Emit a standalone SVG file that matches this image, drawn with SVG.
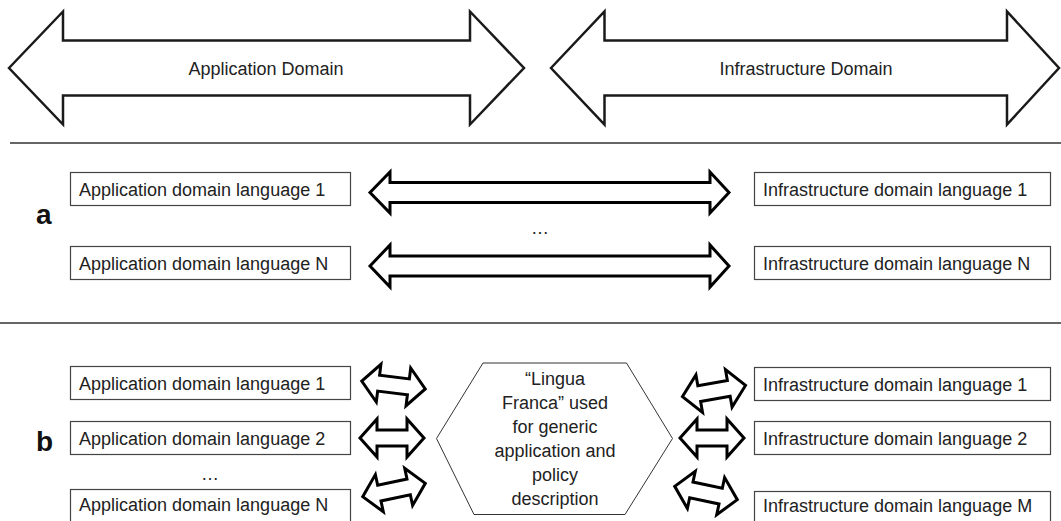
<svg xmlns="http://www.w3.org/2000/svg" width="1061" height="521" viewBox="0 0 1061 521">
<defs>
<style>
.big{fill:#fff;stroke:#1a1a1a;stroke-width:2.5;stroke-linejoin:miter}
.arr{fill:#fff;stroke:#000;stroke-width:3;stroke-linejoin:miter}
.box{fill:#fff;stroke:#444;stroke-width:1.2}
.hex{fill:#fff;stroke:#333;stroke-width:1}
.t{font-family:"Liberation Sans",Arial,sans-serif;font-size:18px;fill:#222}
.c{text-anchor:middle}
.lbl{font-family:"Liberation Sans",Arial,sans-serif;font-size:28px;font-weight:bold;fill:#111}
.sep{stroke:#333;stroke-width:1.5}
</style>
<path id="sm" d="M-32,0 L-15,-19 L-15,-8 L15,-8 L15,-19 L32,0 L15,19 L15,8 L-15,8 L-15,19 Z"/>
</defs>
<g id="application-domain">
<path class="big" d="M9,68 L63,11.5 L63,40.5 L470,40.5 L470,11.5 L524,68 L470,124.5 L470,95.5 L63,95.5 L63,124.5 Z"/>
<text class="t c" x="266" y="74.5">Application Domain</text>
</g>
<g id="infrastructure-domain">
<path class="big" d="M551,68 L604.5,11.5 L604.5,40.5 L1007,40.5 L1007,11.5 L1059,68 L1007,124.5 L1007,95.5 L604.5,95.5 L604.5,124.5 Z"/>
<text class="t c" x="806" y="74.5">Infrastructure Domain</text>
</g>
<g id="separators">
<line class="sep" x1="10" y1="143" x2="1061" y2="143"/>
<line class="sep" x1="0" y1="323" x2="1061" y2="323"/>
</g>
<g id="label-a"><text class="lbl" x="36" y="224">a</text></g>
<g id="label-b"><text class="lbl" x="36" y="451">b</text></g>
<g id="a-app1"><rect class="box" x="70.5" y="172.5" width="280" height="33"/><text class="t" x="79" y="195.5">Application domain language 1</text></g>
<g id="a-appN"><rect class="box" x="70.5" y="246.5" width="280" height="33"/><text class="t" x="79" y="269.5">Application domain language N</text></g>
<g id="a-inf1"><rect class="box" x="754.5" y="172.5" width="296" height="33"/><text class="t" x="763" y="195.5">Infrastructure domain language 1</text></g>
<g id="a-infN"><rect class="box" x="754.5" y="246.5" width="296" height="33"/><text class="t" x="763" y="269.5">Infrastructure domain language N</text></g>
<g id="a-dots"><text class="t c" x="540" y="234">…</text></g>
<g id="b-app1"><rect class="box" x="70.5" y="366.5" width="280" height="33"/><text class="t" x="79" y="389.5">Application domain language 1</text></g>
<g id="b-app2"><rect class="box" x="70.5" y="421.5" width="280" height="33"/><text class="t" x="79" y="444.5">Application domain language 2</text></g>
<g id="b-appN"><rect class="box" x="70.5" y="489.5" width="280" height="33"/><text class="t" x="79" y="511">Application domain language N</text></g>
<g id="b-dots"><text class="t c" x="210" y="480">…</text></g>
<g id="b-inf1"><rect class="box" x="754.5" y="367.5" width="296" height="33"/><text class="t" x="763" y="390.5">Infrastructure domain language 1</text></g>
<g id="b-inf2"><rect class="box" x="754.5" y="421.5" width="296" height="33"/><text class="t" x="763" y="444.5">Infrastructure domain language 2</text></g>
<g id="b-infM"><rect class="box" x="754.5" y="491.5" width="296" height="33"/><text class="t" x="763" y="512">Infrastructure domain language M</text></g>
<g id="lingua-franca">
<polygon class="hex" points="436.5,438.5 483,363 626.5,363 672.5,438.5 625,514.5 474,514.5"/>
<text class="t c" x="555" y="385">“Lingua</text>
<text class="t c" x="555" y="409">Franca” used</text>
<text class="t c" x="555" y="433">for generic</text>
<text class="t c" x="555" y="457">application and</text>
<text class="t c" x="555" y="481">policy</text>
<text class="t c" x="555" y="505">description</text>
</g>
<g id="connectors">
<path class="arr" d="M370,192.5 L390,172 L390,182.5 L710,182.5 L710,172 L729,192.5 L710,213 L710,202.5 L390,202.5 L390,213 Z"/>
<path class="arr" d="M370,266 L390,245 L390,256 L710,256 L710,245 L729,266 L710,287 L710,276 L390,276 L390,287 Z"/>
<use href="#sm" class="arr" transform="translate(393.5,385) rotate(7)"/>
<use href="#sm" class="arr" transform="translate(392,438)"/>
<use href="#sm" class="arr" transform="translate(394,490) rotate(-12)"/>
<use href="#sm" class="arr" transform="translate(714,391) rotate(-10)"/>
<use href="#sm" class="arr" transform="translate(712,438)"/>
<use href="#sm" class="arr" transform="translate(706,493) rotate(12)"/>
</g>
</svg>
